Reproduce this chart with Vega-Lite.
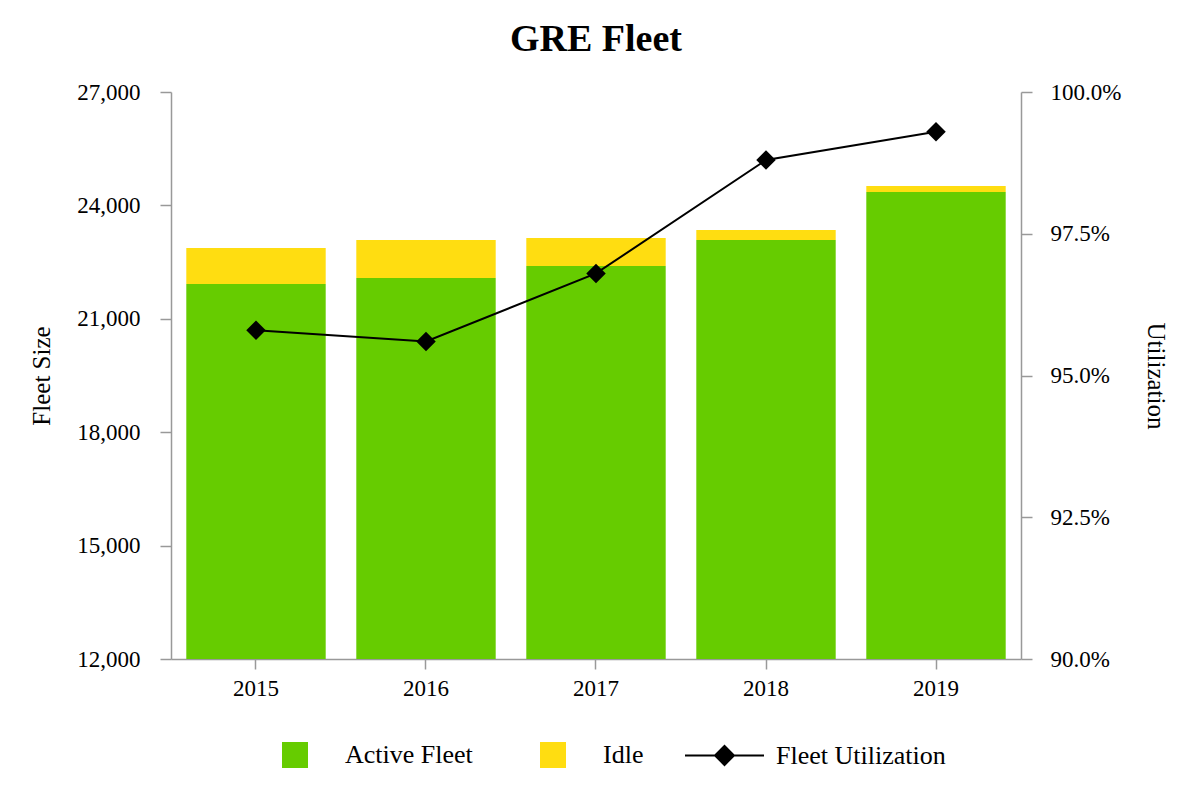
{
  "$schema": "https://vega.github.io/schema/vega-lite/v6.json",
  "width": 850,
  "height": 567,
  "autosize": "none",
  "padding": {"left": 171, "top": 92, "right": 179, "bottom": 141},
  "background": "white",
  "title": {
    "text": "GRE Fleet",
    "font": "Liberation Serif",
    "fontSize": 38,
    "fontWeight": "bold",
    "color": "black",
    "anchor": "middle",
    "offset": 22
  },
  "config": {
    "view": {"stroke": null},
    "axis": {
      "labelFont": "Liberation Serif",
      "labelFontSize": 23,
      "labelColor": "black",
      "titleFont": "Liberation Serif",
      "titleFontSize": 25,
      "titleFontWeight": "normal",
      "titleColor": "black",
      "domainColor": "#999999",
      "tickColor": "#999999",
      "domainWidth": 1.5,
      "tickWidth": 1.5,
      "grid": false
    }
  },
  "datasets": {
    "fleet": [
      {"year": "2015", "series": "Active Fleet", "value": 21920},
      {"year": "2015", "series": "Idle", "value": 953},
      {"year": "2016", "series": "Active Fleet", "value": 22080},
      {"year": "2016", "series": "Idle", "value": 1005},
      {"year": "2017", "series": "Active Fleet", "value": 22400},
      {"year": "2017", "series": "Idle", "value": 740},
      {"year": "2018", "series": "Active Fleet", "value": 23085},
      {"year": "2018", "series": "Idle", "value": 265},
      {"year": "2019", "series": "Active Fleet", "value": 24355},
      {"year": "2019", "series": "Idle", "value": 160}
    ],
    "util": [
      {"year": "2015", "series": "Fleet Utilization", "util": 0.958},
      {"year": "2016", "series": "Fleet Utilization", "util": 0.956},
      {"year": "2017", "series": "Fleet Utilization", "util": 0.968},
      {"year": "2018", "series": "Fleet Utilization", "util": 0.988},
      {"year": "2019", "series": "Fleet Utilization", "util": 0.993}
    ]
  },
  "layer": [
    {
      "data": {"name": "fleet"},
      "mark": {"type": "bar", "clip": true},
      "encoding": {
        "x": {
          "field": "year",
          "type": "nominal",
          "scale": {"paddingInner": 0.18, "paddingOuter": 0.09},
          "axis": {"title": null, "labelAngle": 0, "tickSize": 10, "labelPadding": 8}
        },
        "y": {
          "field": "value",
          "type": "quantitative",
          "aggregate": "sum",
          "stack": "zero",
          "scale": {"domain": [12000, 27000], "nice": false},
          "axis": {
            "title": "Fleet Size",
            "values": [12000, 15000, 18000, 21000, 24000, 27000],
            "format": ",.0f",
            "tickSize": 11,
            "labelPadding": 20,
            "titlePadding": 22
          }
        },
        "fill": {
          "field": "series",
          "type": "nominal",
          "scale": {"domain": ["Active Fleet", "Idle"], "range": ["#66CC00", "#FFDD11"]},
          "legend": {
            "title": null,
            "orient": "none",
            "direction": "horizontal",
            "legendX": 111,
            "legendY": 650,
            "padding": 0,
            "symbolType": "square",
            "symbolSize": 676,
            "symbolStrokeWidth": 0,
            "labelOffset": 37,
            "columnPadding": 67,
            "labelLimit": 400,
            "labelFont": "Liberation Serif",
            "labelFontSize": 26,
            "labelColor": "black"
          }
        },
        "order": {"field": "series", "sort": "ascending"}
      }
    },
    {
      "data": {"name": "util"},
      "encoding": {
        "x": {"field": "year", "type": "nominal"},
        "y": {
          "field": "util",
          "type": "quantitative",
          "scale": {"domain": [0.9, 1.0], "nice": false, "zero": false},
          "axis": {
            "orient": "right",
            "title": "Utilization",
            "values": [0.9, 0.925, 0.95, 0.975, 1.0],
            "format": ".1%",
            "tickSize": 11,
            "labelPadding": 18,
            "titlePadding": 22
          }
        }
      },
      "layer": [
        {
          "mark": {"type": "line", "strokeWidth": 2},
          "encoding": {
            "stroke": {
              "field": "series",
              "type": "nominal",
              "scale": {"domain": ["Fleet Utilization"], "range": ["black"]},
              "legend": {
                "title": null,
                "orient": "none",
                "direction": "horizontal",
                "legendX": 513,
                "legendY": 623,
                "padding": 0,
                "symbolType": "M-1,0L1,0M-0.24,0L0,-0.24L0.24,0L0,0.24Z",
                "symbolSize": 6241,
                "symbolFillColor": "black",
                "symbolStrokeColor": "black",
                "symbolStrokeWidth": 2,
                "labelOffset": 11,
                "labelLimit": 400,
                "labelFont": "Liberation Serif",
                "labelFontSize": 26,
                "labelColor": "black"
              }
            }
          }
        },
        {
          "mark": {"type": "point", "shape": "diamond", "size": 380, "filled": true, "color": "black", "opacity": 1},
          "encoding": {}
        }
      ]
    }
  ],
  "resolve": {"scale": {"y": "independent"}}
}
